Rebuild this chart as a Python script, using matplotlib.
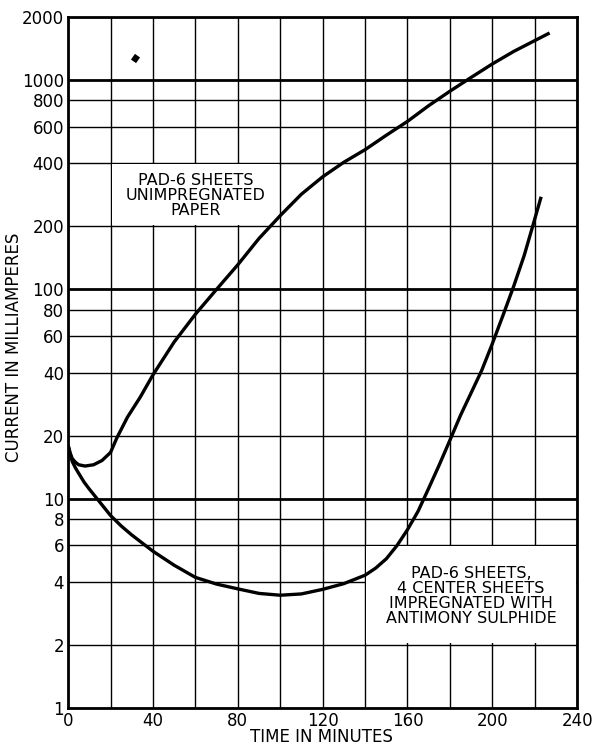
import matplotlib.pyplot as plt
from matplotlib.patches import Rectangle

# readings (minutes, milliamperes)
unimp_t = [0, 1, 2, 3.5, 5, 8, 12, 16, 20, 23, 28, 34, 40, 50, 60, 70, 80, 90,
           100, 110, 120, 130, 140, 150, 160, 170, 180, 190, 200, 210, 220, 227]
unimp_ma = [18, 16.5, 15.5, 14.9, 14.5, 14.3, 14.5, 15.2, 16.6, 19.5, 24.5, 30.5, 39,
            56, 76, 100, 131, 175, 225, 285, 345, 405, 465, 545, 635, 755, 885,
            1030, 1195, 1370, 1545, 1680]

impreg_t = [0, 1, 2, 3.5, 5, 7.5, 10, 15, 20, 25, 30, 40, 50, 60, 70, 80, 90, 100,
            110, 120, 130, 140, 145, 150, 155, 160, 165, 170, 175, 180, 185, 190,
            195, 200, 205, 210, 215, 219, 223]
impreg_ma = [18, 16.2, 15, 14, 13.2, 12, 11.1, 9.6, 8.3, 7.4, 6.7, 5.6, 4.8, 4.2, 3.9,
             3.7, 3.52, 3.45, 3.5, 3.68, 3.92, 4.3, 4.65, 5.15, 5.95, 7.1, 8.7, 11.2,
             14.5, 19, 25, 32, 41, 55, 75, 103, 145, 200, 277]

dot_t, dot_ma = [31.6], [1275]

x_ticks = list(range(0, 241, 20))
x_labels = [0, 40, 80, 120, 160, 200, 240]
y_ticks = [1, 2, 4, 6, 8, 10, 20, 40, 60, 80, 100, 200, 400, 600, 800, 1000, 2000]
major_y = [10, 100, 1000]

fig = plt.figure(figsize=(5.92, 7.45), dpi=100)
ax = fig.add_axes([0.115, 0.05, 0.86, 0.927])
ax.set_yscale('log')
ax.set_xlim(0, 240)
ax.set_ylim(1, 2000)

for x in x_ticks:
    ax.axvline(x, color='black', lw=1.0, zorder=1)
for y in y_ticks:
    ax.axhline(y, color='black', lw=2.0 if y in major_y else 1.0, zorder=1)

# white label boxes that break the grid
ax.add_patch(Rectangle((20.6, 203), 78.8, 193, facecolor='white', edgecolor='none', zorder=2))
ax.add_patch(Rectangle((140.6, 2.03), 98.8, 3.92, facecolor='white', edgecolor='none', zorder=2))

ax.plot(unimp_t, unimp_ma, color='black', lw=2.4, solid_capstyle='butt', zorder=3)
ax.plot(impreg_t, impreg_ma, color='black', lw=2.4, solid_capstyle='butt', zorder=3)
ax.plot(dot_t, dot_ma, marker=(2, 0, -35), ms=5, mew=4.5, color='black', zorder=3)

ax.text(60, 281, 'PAD-6 SHEETS\nUNIMPREGNATED\nPAPER', ha='center', va='center',
        fontsize=11.5, linespacing=1.0, zorder=4)
ax.text(190, 3.42, 'PAD-6 SHEETS,\n4 CENTER SHEETS\nIMPREGNATED WITH\nANTIMONY SULPHIDE',
        ha='center', va='center', fontsize=11.5, linespacing=1.0, zorder=4)

ax.set_xticks(x_labels)
ax.set_xticklabels([str(v) for v in x_labels], fontsize=12)
ax.set_yticks(y_ticks)
ax.set_yticklabels([str(v) for v in y_ticks], fontsize=12)
ax.minorticks_off()
ax.tick_params(length=0, pad=3)

for s in ax.spines.values():
    s.set_linewidth(2.0)
    s.set_zorder(5)

ax.set_xlabel('TIME IN MINUTES', fontsize=12, va='center')
ax.set_ylabel('CURRENT IN MILLIAMPERES', fontsize=12)
ax.xaxis.set_label_coords(0.498, -0.043)
ax.yaxis.set_label_coords(-0.088, 0.522)

fig.savefig('out.png', dpi=100)
